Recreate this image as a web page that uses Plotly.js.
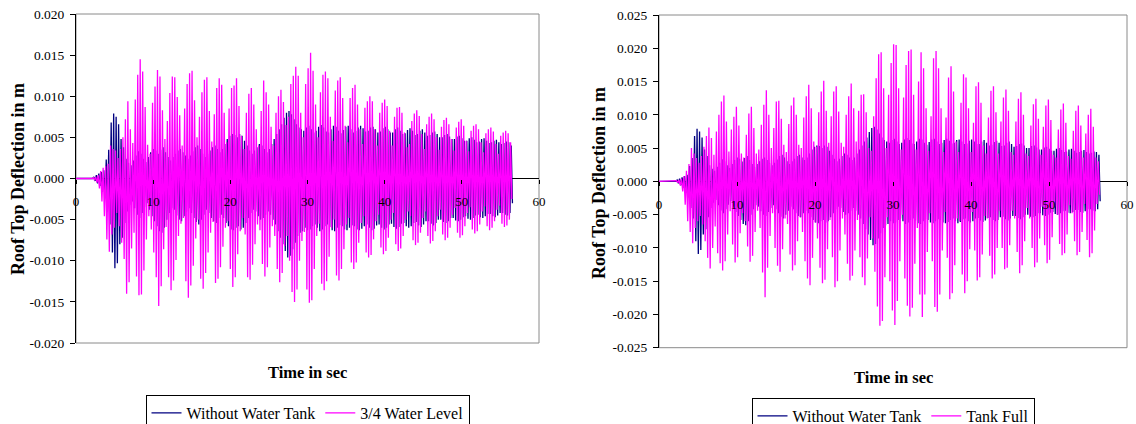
<!DOCTYPE html>
<html>
<head>
<meta charset="utf-8">
<script src="https://cdn.plot.ly/plotly-3.0.1.min.js"></script>
<style>
html,body{margin:0;padding:0;background:#fff;}
#chart{width:1136px;height:424px;}
</style>
</head>
<body>
<div id="chart"></div>
<script>
// ---------- DATA (deflection peaks, in mm) ----------
// samples alternate +peak / -peak, one sample every sampleStep seconds
const sampleStep = 0.16;          // s between successive peaks
const firstSampleTank = 0;        // s, time of first sample (tank series)
const firstSampleNoTank = 0.08;   // s, time of first sample (no-tank series)

const seriesNames = ["Without Water Tank", "3/4 Water Level", "Tank Full"];

const withoutTankMm = [
 0,0, 0,0, 0,0, 0,0, 0,0, 0,0,
 0,0, 0.2,-0.3, 0.4,-0.6, 0.6,-0.9, 0.8,-1.6, 1.0,-2.4,
 2.3,-4.0, 3.5,-5.6, 6.8,-9.0, 7.9,-10.9, 7.5,-10.3, 6.6,-8.0,
 4.8,-7.2, 3.8,-5.4, 2.4,-4.0, 1.9,-3.2, 1.6,-2.8, 2.2,-3.6,
 2.8,-4.4, 3.3,-4.8, 3.0,-4.2, 2.4,-3.5, 2.0,-3.0, 2.6,-3.8,
 3.2,-4.6, 3.6,-5.2, 3.4,-5.8, 3.0,-6.4, 3.5,-6.6, 3.8,-6.0,
 3.2,-5.0, 2.6,-4.2, 2.2,-3.6, 2.6,-3.8, 3.0,-4.5, 3.4,-5.0,
 3.6,-5.2, 3.2,-4.6, 2.8,-4.0, 2.4,-3.6, 2.8,-4.2, 3.3,-4.8,
 3.8,-5.3, 4.0,-5.6, 3.6,-5.0, 3.0,-4.4, 2.6,-3.8, 3.0,-4.2,
 3.4,-4.8, 3.8,-5.2, 4.0,-5.4, 3.6,-4.8, 3.2,-4.4, 3.6,-4.8,
 4.2,-5.4, 4.8,-5.8, 5.2,-6.2, 5.4,-6.3, 5.3,-6.0, 5.0,-5.8,
 5.4,-6.2, 5.2,-6.0, 4.6,-5.4, 4.0,-4.8, 3.4,-4.2, 3.0,-3.8,
 3.4,-4.0, 3.8,-4.6, 4.2,-5.0, 4.0,-4.8, 3.6,-4.4, 3.2,-4.0,
 3.6,-4.4, 4.2,-5.0, 4.8,-5.6, 5.4,-6.4, 6.0,-7.2, 6.6,-8.0,
 7.4,-8.8, 8.0,-9.6, 8.2,-9.4, 7.8,-8.6, 7.2,-7.8, 6.6,-7.0,
 6.2,-6.6, 6.0,-6.4, 5.8,-6.0, 6.2,-6.3, 6.4,-6.2, 6.0,-5.8,
 5.6,-5.6, 5.8,-6.0, 6.3,-6.4, 6.5,-6.2, 6.2,-5.8, 5.7,-5.6,
 5.6,-5.9, 6.0,-6.3, 6.4,-6.4, 6.3,-6.0, 5.8,-5.7, 5.5,-5.8,
 5.9,-6.2, 6.3,-6.3, 6.4,-6.0, 6.0,-5.7, 5.6,-5.8, 5.8,-6.2,
 6.2,-6.3, 6.4,-6.1, 6.1,-5.8, 5.7,-5.6, 5.8,-6.0, 6.2,-6.3,
 6.3,-6.1, 6.0,-5.7, 5.6,-5.6, 5.7,-6.0, 6.1,-6.2, 6.3,-6.0,
 6.0,-5.6, 5.6,-5.5, 5.6,-5.9, 6.0,-6.1, 6.2,-5.9, 5.8,-5.5,
 5.4,-5.4, 5.5,-5.8, 5.9,-6.0, 6.1,-5.8, 5.8,-5.4, 5.3,-5.3,
 5.4,-5.7, 5.8,-5.9, 6.0,-5.6, 5.6,-5.2, 5.2,-5.2, 5.3,-5.5,
 5.6,-5.7, 5.7,-5.4, 5.4,-5.0, 5.0,-5.0, 5.0,-5.3, 5.3,-5.4,
 5.4,-5.2, 5.1,-4.8, 4.8,-4.8, 4.8,-5.1, 5.1,-5.2, 5.2,-5.0,
 4.9,-4.7, 4.6,-4.6, 4.6,-4.9, 4.9,-5.0, 5.0,-4.8, 4.7,-4.5,
 4.4,-4.4, 4.5,-4.7, 4.8,-4.8, 4.9,-4.6, 4.6,-4.3, 4.3,-4.3,
 4.4,-4.6, 4.6,-4.7, 4.7,-4.5, 4.4,-4.2, 4.2,-4.2, 4.3,-4.4,
 4.5,-4.5, 4.4,-4.2, 4.0,-3.0
];

const threeQuarterMm = [
 0,0, 0,0, 0,0, 0,0, 0,0, 0,0,
 0,0, 0.1,-0.2, 0.2,-0.5, 0.4,-1.2, 0.9,-2.8, 1.3,-4.6,
 1.5,-7.4, 1.8,-8.9, 4.0,-6.8, 3.6,-6.0, 3.4,-4.2, 2.5,-5.8,
 3.6,-7.8, 5.0,-9.8, 7.2,-14.0, 9.4,-12.6, 6.0,-8.5, 4.3,-6.6,
 9.6,-11.9, 12.6,-14.2, 14.5,-14.1, 13.0,-11.2, 8.7,-7.4, 4.1,-4.6,
 3.0,-6.2, 9.2,-9.0, 11.2,-12.0, 13.2,-15.5, 12.4,-13.1, 8.3,-8.6,
 4.8,-5.9, 7.0,-12.0, 10.4,-13.6, 12.4,-12.4, 12.3,-9.9, 9.9,-7.0,
 7.7,-5.5, 4.0,-4.8, 8.5,-12.5, 11.5,-14.5, 12.8,-13.0, 13.1,-10.6,
 9.5,-7.3, 5.0,-5.0, 7.5,-12.2, 10.5,-13.4, 12.0,-11.5, 12.3,-9.0,
 8.2,-6.6, 4.5,-5.3, 7.8,-12.7, 11.0,-12.2, 12.2,-10.8, 11.4,-8.3,
 8.0,-6.0, 4.4,-5.2, 8.5,-11.0, 11.0,-13.2, 11.3,-12.0, 12.2,-9.2,
 8.8,-6.4, 5.2,-4.8, 3.6,-6.8, 8.0,-12.0, 10.3,-12.3, 11.0,-10.5,
 9.0,-8.0, 6.0,-5.6, 4.0,-6.3, 8.2,-10.4, 11.9,-11.9, 10.5,-10.8,
 9.0,-8.4, 6.3,-5.8, 4.0,-7.0, 8.0,-11.0, 10.0,-12.6, 10.8,-11.5,
 9.3,-8.2, 6.5,-7.0, 7.5,-10.0, 11.5,-13.8, 12.5,-15.0, 13.6,-13.5,
 12.5,-10.0, 8.0,-7.6, 5.0,-6.5, 11.5,-13.5, 13.4,-15.1, 15.3,-14.8,
 13.1,-11.0, 9.0,-7.0, 5.0,-5.5, 10.5,-12.8, 12.6,-13.6, 13.0,-12.5,
 12.2,-9.5, 7.5,-6.0, 4.6,-5.0, 10.7,-11.8, 11.9,-12.4, 12.3,-11.0,
 9.8,-8.6, 6.4,-5.6, 4.4,-4.8, 9.8,-10.2, 11.0,-11.0, 11.4,-10.2,
 9.0,-7.8, 6.0,-5.4, 4.2,-4.6, 8.6,-9.0, 9.4,-9.6, 10.0,-9.3,
 9.4,-7.4, 6.0,-5.2, 4.0,-4.4, 8.0,-8.4, 9.2,-9.2, 9.6,-8.8,
 8.8,-7.2, 5.8,-5.0, 4.0,-4.2, 7.5,-8.0, 8.6,-8.8, 8.7,-8.5,
 8.0,-7.0, 5.6,-5.0, 3.8,-4.0, 4.2,-4.6, 7.0,-7.5, 7.9,-8.1,
 8.3,-7.8, 7.6,-6.6, 5.4,-4.8, 3.6,-4.0, 6.6,-7.0, 7.5,-7.9,
 7.9,-7.6, 7.2,-6.4, 5.0,-4.6, 3.5,-3.8, 6.3,-6.8, 7.1,-7.5,
 7.4,-7.2, 6.6,-6.0, 4.8,-4.4, 3.4,-3.6, 6.2,-6.6, 6.9,-7.2,
 7.2,-6.9, 6.4,-5.8, 4.6,-4.2, 3.3,-3.5, 5.8,-6.2, 6.4,-6.7,
 6.6,-6.4, 6.0,-5.6, 4.4,-4.0, 3.2,-3.4, 5.5,-5.8, 6.0,-6.3,
 6.2,-6.0, 5.7,-5.2, 4.2,-3.8, 3.0,-3.3, 5.2,-5.5, 5.6,-5.9,
 5.8,-5.7, 5.5,-5.0, 4.4,-2.5
];

const tankFullMm = [
 0,0, 0,0, 0,0, 0,0, 0,0, 0,0,
 0,0, 0.1,-0.2, 0.2,-0.6, 0.4,-1.5, 0.8,-3.5, 1.6,-6.0,
 2.6,-7.6, 5.0,-9.3, 4.2,-7.0, 3.5,-6.0, 2.8,-5.2, 3.8,-6.5,
 5.2,-9.0, 6.8,-11.5, 8.1,-13.1, 6.5,-10.0, 4.0,-6.8, 7.5,-10.8,
 10.0,-12.3, 12.0,-13.4, 12.9,-12.0, 9.0,-8.0, 4.5,-4.5, 7.8,-9.5,
 9.7,-12.2, 11.2,-11.4, 8.4,-7.8, 4.2,-4.8, 3.6,-6.0, 7.0,-9.8,
 10.2,-12.1, 11.2,-11.2, 8.0,-7.6, 4.2,-4.4, 4.8,-7.0, 8.5,-13.7,
 11.5,-17.4, 13.7,-13.0, 10.0,-8.2, 5.0,-4.8, 8.0,-10.0, 12.0,-12.7,
 12.1,-13.6, 9.4,-10.2, 5.5,-5.6, 4.4,-6.4, 8.6,-11.0, 11.4,-13.4,
 12.6,-12.6, 10.0,-9.0, 5.5,-5.4, 5.0,-7.6, 9.6,-12.0, 12.8,-14.6,
 14.5,-15.6, 11.0,-11.5, 6.0,-6.2, 5.2,-8.6, 10.4,-13.0, 13.5,-15.3,
 15.1,-14.8, 10.6,-10.2, 5.8,-5.8, 9.8,-11.4, 13.5,-15.9, 14.3,-15.0,
 10.5,-10.4, 5.8,-5.6, 5.2,-8.0, 10.0,-12.4, 12.8,-14.9, 14.7,-14.2,
 11.0,-10.4, 6.0,-5.8, 10.6,-11.4, 13.0,-14.4, 13.1,-15.6, 10.4,-11.6,
 5.0,-5.4, 4.6,-8.6, 9.8,-13.6, 15.5,-18.8, 19.1,-21.7, 19.4,-21.0,
 14.0,-14.4, 5.0,-5.4, 13.0,-15.0, 17.8,-19.4, 20.6,-21.6, 20.5,-18.0,
 14.0,-12.0, 4.8,-5.0, 12.6,-14.6, 17.5,-18.7, 19.6,-20.3, 19.8,-19.0,
 13.0,-12.4, 4.8,-7.0, 15.0,-17.0, 19.4,-20.4, 17.0,-17.0, 11.0,-10.6,
 4.6,-4.8, 9.8,-12.0, 18.5,-18.9, 19.6,-19.6, 17.0,-17.0, 11.0,-10.4,
 4.4,-4.6, 9.6,-11.5, 15.6,-17.7, 17.3,-16.8, 13.5,-12.6, 6.0,-5.6,
 4.4,-6.0, 11.8,-14.0, 16.1,-16.8, 15.6,-15.0, 11.0,-10.2, 4.4,-4.6,
 8.8,-10.4, 14.3,-14.9, 14.9,-14.4, 11.8,-11.0, 5.4,-5.2, 4.2,-5.6,
 9.6,-11.2, 13.6,-14.6, 14.3,-14.0, 10.4,-10.0, 4.2,-4.4, 9.0,-10.0,
 12.6,-13.2, 13.8,-13.0, 10.6,-9.6, 4.4,-4.4, 4.0,-5.6, 9.0,-10.6,
 12.4,-13.8, 13.4,-12.6, 10.0,-9.0, 4.2,-4.0, 3.8,-5.6, 8.4,-10.0,
 11.6,-12.9, 12.4,-12.2, 9.4,-8.6, 4.0,-3.8, 8.2,-9.6, 11.4,-12.3,
 12.3,-11.8, 9.2,-8.4, 4.0,-3.8, 3.6,-5.0, 7.8,-9.4, 10.8,-11.1,
 11.7,-10.8, 8.8,-8.0, 3.8,-3.6, 3.4,-4.8, 7.6,-9.0, 10.6,-11.1,
 11.4,-10.6, 8.4,-7.6, 3.6,-3.4, 7.2,-8.8, 10.0,-11.4, 10.9,-10.8,
 8.2,-7.4, 3.6,-3.4, 3.0,-2.0
];

const xTickVals = [0, 10, 20, 30, 40, 50, 60];
const yTickValsLeft = [-0.020, -0.015, -0.010, -0.005, 0, 0.005, 0.010, 0.015, 0.020];
const yTickValsRight = [-0.025, -0.020, -0.015, -0.010, -0.005, 0, 0.005, 0.010, 0.015, 0.020, 0.025];
const xTitle = "Time in sec";
const yTitle = "Roof Top Deflection in m";

// ---------- STYLE / LAYOUT ----------
const W = 1136, H = 424;
const px = v => v / W;
const py = v => 1 - v / H;
const FONT = "'Liberation Serif', 'Times New Roman', Times, serif";
const NAVY = "#000080", MAGENTA = "#FF00FF";
const toM = arr => arr.map(v => v / 1000);

const L = {x0: 76, x1: 539, y0: 14, y1: 343};
const R = {x0: 659, x1: 1127, y0: 15, y1: 347.7};

function xAxis(box) {
  const d0 = py(box.y1), d1 = py(box.y0);
  return {
    domain: [px(box.x0), px(box.x1)], range: [0, 60],
    anchor: 'free', position: (d0 + d1) / 2,
    tickvals: xTickVals, ticktext: xTickVals.map(String),
    ticks: 'outside', ticklen: 4, tickcolor: '#000', tickwidth: 1,
    showline: false,
    showgrid: false, zeroline: false, layer: 'above traces',
    tickfont: {family: FONT, size: 13, color: '#000'},
    ticklabelstandoff: 7, fixedrange: true, automargin: false
  };
}
function yAxis(box, vals, xname) {
  return {
    domain: [py(box.y1), py(box.y0)], range: [vals[0], vals[vals.length - 1]],
    anchor: xname,
    tickvals: vals, ticktext: vals.map(v => v.toFixed(3)),
    ticks: 'outside', ticklen: 5, tickcolor: '#000', tickwidth: 1,
    showline: true, linecolor: '#000', linewidth: 1,
    showgrid: false,
    zeroline: true, zerolinecolor: '#000', zerolinewidth: 1, zerolinelayer: 'below traces',
    tickfont: {family: FONT, size: 13.5, color: '#000'},
    ticklabelstandoff: 3, fixedrange: true, automargin: false
  };
}

const traces = [
  {type: 'scatter', mode: 'lines', name: seriesNames[0], x0: firstSampleNoTank, dx: sampleStep,
   y: toM(withoutTankMm), xaxis: 'x', yaxis: 'y', legend: 'legend',
   line: {color: NAVY, width: 1.3}},
  {type: 'scatter', mode: 'lines', name: seriesNames[1], x0: firstSampleTank, dx: sampleStep,
   y: toM(threeQuarterMm), xaxis: 'x', yaxis: 'y', legend: 'legend',
   line: {color: MAGENTA, width: 1.3}},
  {type: 'scatter', mode: 'lines', name: seriesNames[0], x0: firstSampleNoTank, dx: sampleStep,
   y: toM(withoutTankMm), xaxis: 'x2', yaxis: 'y2', legend: 'legend2',
   line: {color: NAVY, width: 1.3}},
  {type: 'scatter', mode: 'lines', name: seriesNames[2], x0: firstSampleTank, dx: sampleStep,
   y: toM(tankFullMm), xaxis: 'x2', yaxis: 'y2', legend: 'legend2',
   line: {color: MAGENTA, width: 1.3}}
];

function legendAt(cx, top) {
  return {
    orientation: 'h', x: px(cx), xanchor: 'center', y: py(top), yanchor: 'top',
    bordercolor: '#000', borderwidth: 1, bgcolor: '#fff',
    font: {family: FONT, size: 16, color: '#000'},
    itemwidth: 30, tracegroupgap: 0, itemclick: false, itemdoubleclick: false
  };
}

function frame(xr, yr) {
  return {type: 'rect', xref: xr + ' domain', yref: yr + ' domain', x0: 0, x1: 1, y0: 0, y1: 1,
          line: {color: '#8a8a8a', width: 1}, layer: 'below'};
}

const titleFont = {family: FONT, color: '#000'};
const annotations = [
  {text: '<b>' + yTitle + '</b>', x: px(18), y: py(179), xref: 'paper', yref: 'paper',
   textangle: -90, showarrow: false, xanchor: 'center', yanchor: 'middle',
   font: Object.assign({size: 18}, titleFont)},
  {text: '<b>' + yTitle + '</b>', x: px(599), y: py(183), xref: 'paper', yref: 'paper',
   textangle: -90, showarrow: false, xanchor: 'center', yanchor: 'middle',
   font: Object.assign({size: 18}, titleFont)},
  {text: '<b>' + xTitle + '</b>', x: px(307), y: py(372.5), xref: 'paper', yref: 'paper',
   showarrow: false, xanchor: 'center', yanchor: 'middle',
   font: Object.assign({size: 16.5}, titleFont)},
  {text: '<b>' + xTitle + '</b>', x: px(893), y: py(377), xref: 'paper', yref: 'paper',
   showarrow: false, xanchor: 'center', yanchor: 'middle',
   font: Object.assign({size: 16.5}, titleFont)}
];

const layout = {
  width: W, height: H,
  margin: {l: 0, r: 0, t: 0, b: 0, pad: 0, autoexpand: false},
  paper_bgcolor: '#fff', plot_bgcolor: '#fff',
  font: {family: FONT, color: '#000'},
  showlegend: true,
  xaxis: xAxis(L), yaxis: yAxis(L, yTickValsLeft, 'x'),
  xaxis2: xAxis(R), yaxis2: yAxis(R, yTickValsRight, 'x2'),
  legend: legendAt(307.5, 395),
  legend2: legendAt(893, 398),
  shapes: [frame('x', 'y'), frame('x2', 'y2')],
  annotations: annotations
};

Plotly.newPlot('chart', traces, layout, {staticPlot: true, displayModeBar: false});
</script>
</body>
</html>
